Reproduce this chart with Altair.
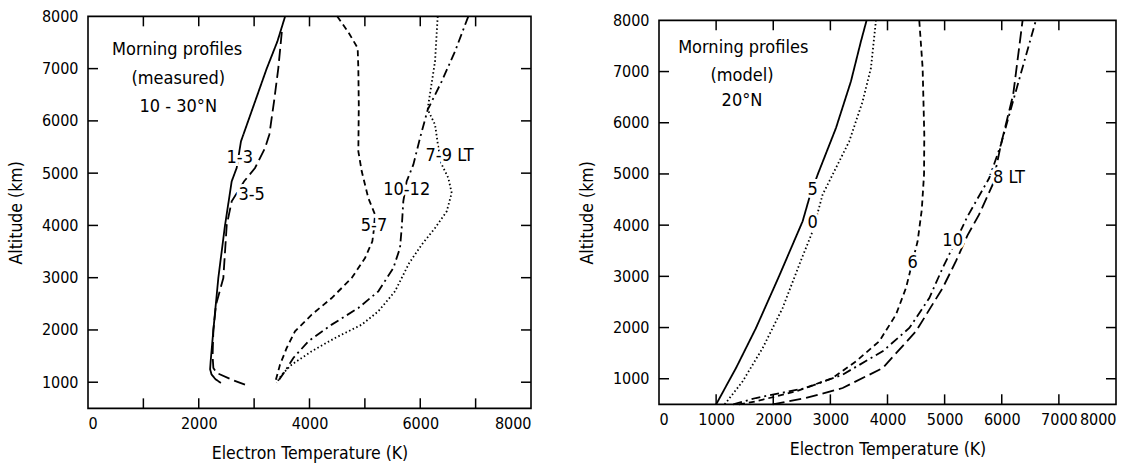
import altair as alt
import pandas as pd

FONT = "DejaVu Sans Condensed, Liberation Sans Narrow, DejaVu Sans, sans-serif"

# ---------------- Left panel: measured, 10-30 N ----------------
m13_T = [3560, 3420, 3227, 2890, 2763, 2685, 2595, 2474, 2354, 2264, 2215, 2205, 2230, 2300, 2400]
m13_A = [8000, 7520, 7000, 5990, 5610, 5100, 4843, 4000, 3000, 2000, 1400, 1250, 1150, 1060, 985]

m35_T = [3500, 3437, 3360, 3275, 3197, 3016, 2820, 2595, 2505, 2444, 2312, 2264, 2250, 2264, 2324, 2595, 2835]
m35_A = [7700, 7011, 6374, 5740, 5480, 5098, 4844, 4461, 4002, 2994, 2485, 2000, 1500, 1272, 1177, 1049, 955]

m57_T = [4500, 4700, 4870, 4882, 4890, 4882, 4943, 5062, 5183, 5160, 5135, 5003, 4762, 4401, 4040, 3738, 3588, 3468, 3377]
m57_A = [8000, 7700, 7394, 7000, 6300, 5417, 5035, 4524, 4207, 3900, 3696, 3376, 2994, 2611, 2293, 1974, 1655, 1337, 985]

m1012_T = [6868, 6628, 6388, 6135, 5996, 5875, 5755, 5694, 5665, 5634, 5514, 5243, 4882, 4401, 3979, 3708, 3558, 3408]
m1012_A = [8000, 7330, 6757, 6215, 5672, 5163, 4844, 4461, 3950, 3567, 3185, 2739, 2420, 2102, 1783, 1463, 1209, 985]

m79_T = [6315, 6267, 6146, 6135, 6267, 6315, 6375, 6507, 6568, 6478, 6267, 6026, 5800, 5544, 5243, 4943, 4461, 4040, 3679, 3498, 3426]
m79_A = [8000, 7139, 6311, 6215, 5928, 5576, 5194, 4907, 4620, 4270, 3950, 3632, 3280, 2739, 2357, 2102, 1846, 1592, 1337, 1145, 1020]

left_series = ["1-3", "3-5", "5-7", "10-12", "7-9"]
left_T = [m13_T, m35_T, m57_T, m1012_T, m79_T]
left_A = [m13_A, m35_A, m57_A, m1012_A, m79_A]
left_styles = ["solid", "longdash", "dash", "dashdot", "dot"]

left_label_text = ["Morning profiles", "(measured)", "10 - 30°N", "1-3", "3-5", "5-7", "10-12", "7-9 LT"]
left_label_T = [1610, 1630, 1630, 2740, 2956, 5165, 5755, 6529]
left_label_A = [7363, 6808, 6259, 5289, 4589, 3983, 4685, 5331]

# ---------------- Right panel: model, 20 N ----------------
r5_T = [1000, 1348, 1698, 2106, 2514, 2631, 2777, 3098, 3360, 3535, 3634]
r5_A = [500, 1209, 1991, 3014, 4075, 4530, 4986, 5897, 6809, 7590, 8000]

r0_T = [1150, 1465, 1815, 2164, 2456, 2689, 2864, 3330, 3565, 3710, 3798]
r0_A = [500, 950, 1600, 2381, 3229, 3879, 4596, 5637, 6418, 7068, 8000]

r6_T = [1400, 1698, 2398, 3040, 3448, 3855, 4148, 4323, 4527, 4600, 4640, 4644, 4615, 4556]
r6_A = [500, 559, 754, 1014, 1340, 1731, 2252, 2772, 3684, 4300, 5000, 5771, 7068, 8000]

r10_T = [1300, 1698, 2573, 3215, 3915, 4382, 4732, 4965, 5200, 5400, 5781, 5985, 6230, 6598]
r10_A = [500, 624, 819, 1081, 1535, 1991, 2577, 3163, 3700, 4170, 4920, 5572, 6549, 8000]

r8_T = [1990, 2573, 3215, 3915, 4498, 4965, 5200, 5400, 5600, 5840, 5985, 6200, 6365]
r8_A = [500, 624, 819, 1209, 1926, 2772, 3300, 3800, 4200, 4791, 5572, 6549, 8000]

right_series = ["5", "0", "6", "10", "8"]
right_T = [r5_T, r0_T, r6_T, r10_T, r8_T]
right_A = [r5_A, r0_A, r6_A, r10_A, r8_A]
right_styles = ["solid", "dot", "dash", "dashdot", "longdash"]

right_label_text = ["Morning profiles", "(model)", "20°N", "5", "0", "6", "10", "8 LT"]
right_label_T = [1475, 1453, 1453, 2690, 2690, 4440, 5140, 6125]
right_label_A = [7459, 6906, 6418, 4694, 4041, 3260, 3684, 4920]

tick_vals = [1000, 2000, 3000, 4000, 5000, 6000, 7000]
y_label_vals = [1000, 2000, 3000, 4000, 5000, 6000, 7000, 8000]
left_x_labels = [0, 2000, 4000, 6000, 8000]
right_x_labels = [0, 1000, 2000, 3000, 4000, 5000, 6000, 7000, 8000]

DASHES = {
    "solid": [1, 0],
    "longdash": [12, 5],
    "dash": [6, 4],
    "dashdot": [9, 4, 2, 4],
    "dot": [1.5, 2.5],
}


def make_panel(series, Ts, As, styles, lab_text, lab_T, lab_A, x_labels, width, height):
    rows = []
    for s, tt, aa in zip(series, Ts, As):
        for i, (t, a) in enumerate(zip(tt, aa)):
            rows.append({"T": t, "A": a, "series": s, "idx": i})
    df = pd.DataFrame(rows)

    X = alt.X("T:Q", scale=alt.Scale(domain=[0, 8000], nice=False, zero=False),
              axis=alt.Axis(values=x_labels, format="d", title="Electron Temperature (K)",
                            ticks=False, domain=False, grid=False, labelPadding=7,
                            titlePadding=13))
    Y = alt.Y("A:Q", scale=alt.Scale(domain=[500, 8000], nice=False, zero=False),
              axis=alt.Axis(values=y_label_vals, format="d", title="Altitude (km)",
                            ticks=False, domain=False, grid=False, labelPadding=10,
                            titlePadding=16))

    lines = alt.Chart(df).mark_line(color="black", strokeWidth=1.8).encode(
        x=X, y=Y,
        detail="series:N",
        order="idx:Q",
        strokeDash=alt.StrokeDash("series:N",
                                  scale=alt.Scale(domain=series,
                                                  range=[DASHES[s] for s in styles]),
                                  legend=None),
    )

    tx = pd.DataFrame({"T": tick_vals})
    ty = pd.DataFrame({"A": tick_vals})
    bottom = alt.Chart(tx).mark_rule(color="black", strokeWidth=1.5).encode(
        x=X, y=alt.value(height), y2=alt.value(height - 10))
    top = alt.Chart(tx).mark_rule(color="black", strokeWidth=1.5).encode(
        x=X, y=alt.value(0), y2=alt.value(10))
    left = alt.Chart(ty).mark_rule(color="black", strokeWidth=1.5).encode(
        y=Y, x=alt.value(0), x2=alt.value(10))
    right = alt.Chart(ty).mark_rule(color="black", strokeWidth=1.5).encode(
        y=Y, x=alt.value(width), x2=alt.value(width - 10))

    ldf = pd.DataFrame({"T": lab_T, "A": lab_A, "text": lab_text})
    halo = alt.Chart(ldf).mark_text(font=FONT, fontSize=18, stroke="white", strokeWidth=6,
                                    color="white", align="center", baseline="middle").encode(
        x=X, y=Y, text="text:N")
    labels = alt.Chart(ldf).mark_text(font=FONT, fontSize=18, color="black",
                                      align="center", baseline="middle").encode(
        x=X, y=Y, text="text:N")

    return alt.layer(lines, halo, labels, bottom, top, left, right).properties(
        width=width, height=height)


left_chart = make_panel(left_series, left_T, left_A, left_styles,
                        left_label_text, left_label_T, left_label_A,
                        left_x_labels, 443, 392)
right_chart = make_panel(right_series, right_T, right_A, right_styles,
                         right_label_text, right_label_T, right_label_A,
                         right_x_labels, 457, 384)

chart = alt.hconcat(left_chart, right_chart, spacing=44, center=True).resolve_scale(
    strokeDash="independent"
).properties(
    padding={"left": 6, "top": 7, "right": 3, "bottom": 3},
    background="white",
).configure_view(
    stroke="black", strokeWidth=1.6
).configure_axis(
    labelFont=FONT, titleFont=FONT, labelFontSize=16, titleFontSize=17.5,
    labelColor="black", titleColor="black", titleFontWeight="normal"
)

chart.save("out.html", embed_options={"renderer": "svg", "actions": False})
